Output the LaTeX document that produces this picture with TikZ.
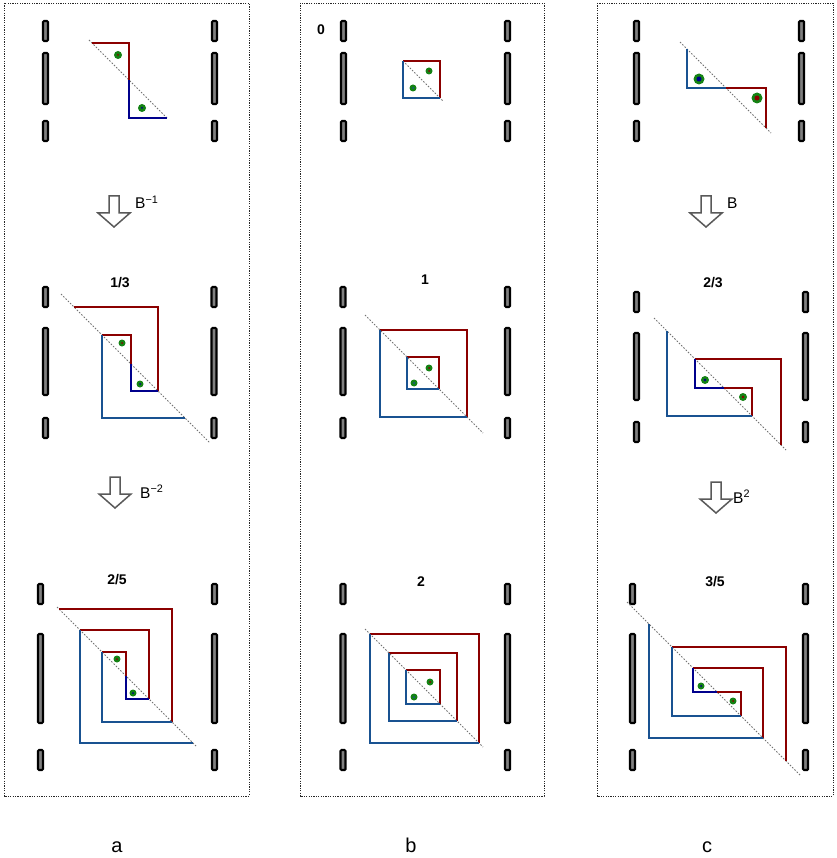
\documentclass[tikz,border=0pt]{standalone}
\usepackage{fontspec}
\setmainfont{Liberation Sans}
\usetikzlibrary{arrows.meta,positioning}
\definecolor{spred}{RGB}{139,0,0}
\definecolor{spnavy}{RGB}{0,0,140}
\definecolor{spblue}{RGB}{25,82,145}
\definecolor{dotgreen}{RGB}{20,130,20}
\definecolor{bargray}{RGB}{128,128,128}

\begin{document}
\begin{tikzpicture}[
  x=1pt, y=-1pt,
  frame/.style={draw=black!85, line width=0.7pt, dash pattern=on 1.2pt off 1.2pt},
  bar/.style={draw=black, fill=bargray, line width=2.1pt, rounded corners=1pt},
  diag/.style={draw=black!55, line width=0.8pt, dash pattern=on 1.6pt off 1.6pt},
  redl/.style={draw=spred, line width=2.8pt},
  navyl/.style={draw=spnavy, line width=2.8pt},
  bluel/.style={draw=spblue, line width=2.8pt},
  hollow/.style={draw=black!65, line width=1.5pt, fill=white},
  lbl/.style={font=\bfseries\fontsize{14}{16}\selectfont, inner sep=0pt},
  oplbl/.style={font=\fontsize{15.5}{17}\selectfont, inner sep=0pt, anchor=base west},
  panlbl/.style={font=\fontsize{20}{22}\selectfont, inner sep=0pt, anchor=base}
]
\useasboundingbox (0,0) rectangle (836,858);

% panels
\draw[frame] (4,3) rectangle (249,796);
\draw[frame] (300,3) rectangle (544,796);
\draw[frame] (597,3) rectangle (833,796);

% slits: centre x / top bar / long bar from-to / bottom bar
\foreach \cx/\t/\ma/\mb/\bt in {45.5/20/52/105/120, 214.5/20/52/105/120,
    45.5/286/327/396/417, 214/286/327/396/417,
    40.5/583/633/724/749, 214.5/583/633/724/749,
    343.5/20/52/105/120, 507.5/20/52/105/120,
    343/286/327/396/417, 507.5/286/327/396/417,
    343/583/633/724/749, 507.5/583/633/724/749,
    636.5/20/52/105/120, 801.5/20/52/105/120,
    636.5/291/332/401/421, 805.5/291/332/401/421,
    632.5/583/633/724/749, 805.5/583/633/724/749} {
  \draw[bar] ({\cx-2.5},{\t+1}) rectangle ({\cx+2.5},{\t+21});
  \draw[bar] ({\cx-2.5},{\ma+1}) rectangle ({\cx+2.5},{\mb-1});
  \draw[bar] ({\cx-2.5},{\bt+1}) rectangle ({\cx+2.5},{\bt+21});
}

% symmetry lines
\foreach \xa/\ya/\xb/\yb in {89/40/168/119, 61/294/210/443, 57/607/196/746,
    403/61/443/101, 365/315/483/433, 365/629/483/747,
    680/42/771/133, 654/318/786/450, 627/602/800/775}
  \draw[diag] (\xa,\ya) -- (\xb,\yb);

% upper-right legs
\foreach \x/\y/\s in {92/43/37, 74/307/84, 102/335/29, 59/609/113, 80/630/69, 102/652/24,
    403/61/37, 380/330/87, 407/357/32, 370/634/109, 389/653/68, 406/670/34,
    726/88/40, 724/388/28, 695/359/86, 717/692/24, 693/668/70, 672/647/114}
  \draw[redl] (\x,\y) -- ++(\s,0) -- ++(0,\s);
% lower-left legs
\foreach \x/\y/\s in {102/335/83, 102/652/70, 80/630/113,
    403/61/37, 380/330/87, 407/357/32, 370/634/109, 389/653/68, 406/670/34,
    687/49/39, 667/331/85, 649/624/114, 672/647/69}
  \draw[bluel] (\x,\y) -- ++(0,\s) -- ++(\s,0);
\foreach \x/\y/\s in {129/80/38, 131/364/27, 126/676/23, 695/359/29, 693/668/24}
  \draw[navyl] (\x,\y) -- ++(0,\s) -- ++(\s,0);

% fixed points
\foreach \x/\y/\r/\ri/\c in {118/55/4/1/spred, 142/108/4/1/spnavy,
    122/343/3.5/1/spred, 140/384/3.5/1/spnavy,
    117/659/3.5/1/spred, 133/693/3.5/1/spnavy,
    429/71/3.5/1/spred, 413/88/3.5/1/spblue,
    429/368/3.5/1/spred, 414/383/3.5/1/spblue,
    430/682/3.5/1/spred, 414/697/3.5/1/spblue,
    699/79/5.5/2.5/spnavy, 757/98/5.5/2.5/spred,
    705/380/4/1.3/spnavy, 743/397/4/1.3/spred,
    701/686/3.5/1/spnavy, 733/701/3.5/1/spred} {
  \fill[dotgreen] (\x,\y) circle[radius=\r pt];
  \fill[\c] (\x,\y) circle[radius=\ri pt];
}

% maps
\foreach \cx/\ty in {114/196, 115/477, 706/196, 716/482}
  \draw[hollow] ({\cx-5},\ty) -- ({\cx+5},\ty) -- ({\cx+5},{\ty+17}) -- ({\cx+16},{\ty+17})
    -- (\cx,{\ty+31}) -- ({\cx-16},{\ty+17}) -- ({\cx-5},{\ty+17}) -- cycle;
\node[oplbl] (binv) at (135,209) {B\textsuperscript{−1}};
\node[oplbl] (binv2) at (140,498) {B\textsuperscript{−2}};
\node[oplbl] (bmap) at (727,209) {B};
\node[oplbl] (bmap2) at (733,503) {B\textsuperscript{2}};

% rotation numbers
\node[lbl] (r0) at (321,30) {0};
\node[lbl] (r13) at (120,283) {1/3};
\node[lbl] (r1) at (425,280) {1};
\node[lbl] (r23) at (713,283) {2/3};
\node[lbl] (r25) at (117,580) {2/5};
\node[lbl] (r2) at (421,582) {2};
\node[lbl] (r35) at (715,582) {3/5};

\node[panlbl] (pa) at (117,852) {a};
\node[panlbl] (pb) at (411,852) {b};
\node[panlbl] (pc) at (707,852) {c};
\end{tikzpicture}
\end{document}
